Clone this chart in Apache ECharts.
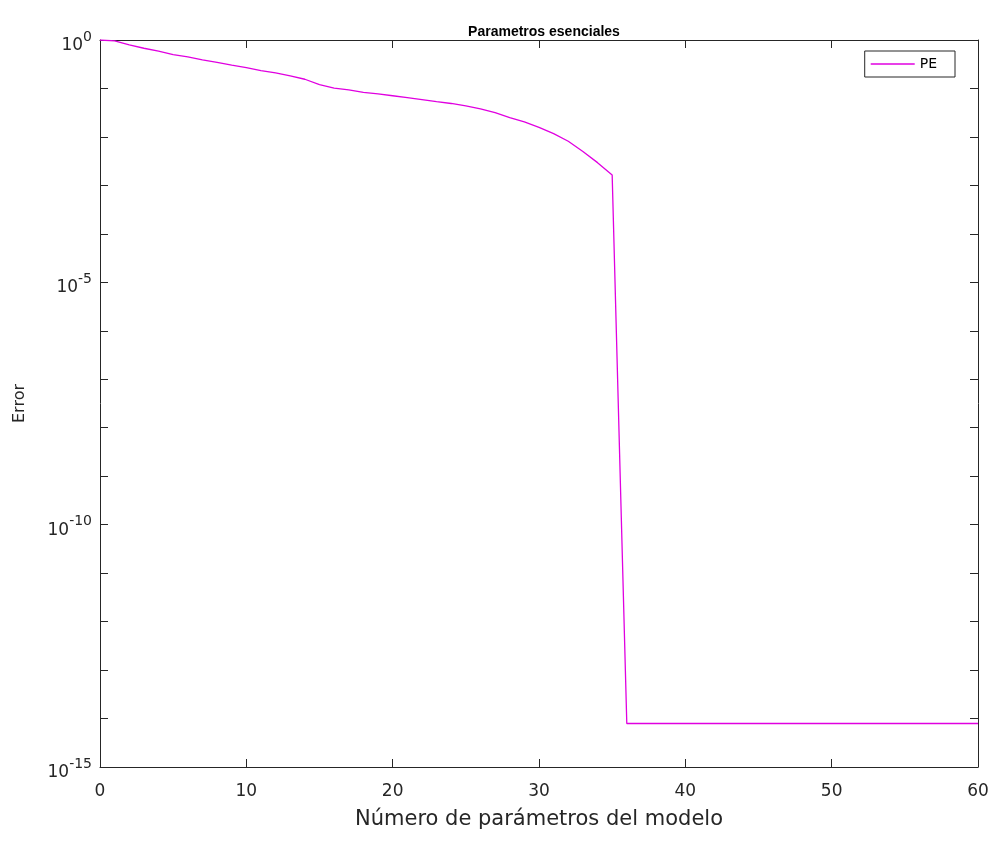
<!DOCTYPE html>
<html>
<head>
<meta charset="utf-8">
<script src="https://cdn.jsdelivr.net/npm/echarts@6/dist/echarts.min.js"></script>
<style>
html,body{margin:0;padding:0;background:#fff;}
#chart{width:994px;height:841px;}
</style>
</head>
<body>
<div id="chart"></div>
<script>
// ---- data ----
const chartTitle = 'Parametros esenciales';
const xAxisName = 'Número de parámetros del modelo';
const yAxisName = 'Error';
const seriesName = 'PE';
const paramCount = [0,1,2,3,4,5,6,7,8,9,10,11,12,13,14,15,16,17,18,19,20,
  21,22,23,24,25,26,27,28,29,30,31,32,33,34,35,36,37,38,39,40,
  41,42,43,44,45,46,47,48,49,50,51,52,53,54,55,56,57,58,59,60];
const errorPE = [1, 0.955, 0.794, 0.676, 0.589, 0.501, 0.447, 0.389, 0.347, 0.302,
  0.269, 0.234, 0.209, 0.182, 0.155, 0.120, 0.102, 0.0933, 0.0832, 0.0776,
  0.0708, 0.0646, 0.0589, 0.0537, 0.0490, 0.0437, 0.0380, 0.0316, 0.0251, 0.0204,
  0.0158, 0.0117, 0.00813, 0.00501, 0.00295, 0.00164,
  7.9e-15, 7.9e-15, 7.9e-15, 7.9e-15, 7.9e-15, 7.9e-15, 7.9e-15, 7.9e-15, 7.9e-15, 7.9e-15,
  7.9e-15, 7.9e-15, 7.9e-15, 7.9e-15, 7.9e-15, 7.9e-15, 7.9e-15, 7.9e-15, 7.9e-15, 7.9e-15,
  7.9e-15, 7.9e-15, 7.9e-15, 7.9e-15, 7.9e-15];
const xTickValues = [0, 10, 20, 30, 40, 50, 60];
const yLabelExponents = [0, -5, -10, -15];

// ---- chart ----
const FONT = 'DejaVu Sans';
const TXT = '#262626';
const AX = '#262626';
const LINE = '#e000e0';
const chart = echarts.init(document.getElementById('chart'));
const points = paramCount.map((x, i) => [x, errorPE[i]]);

function yFmt(v) {
  const e = Math.round(Math.log10(v));
  return yLabelExponents.indexOf(e) >= 0 ? '{b|10}{s|' + e + '}' : '';
}

const commonX = {
  type: 'value', min: xTickValues[0], max: xTickValues[xTickValues.length - 1], interval: 10,
  axisLine: {show: true, onZero: false, lineStyle: {color: AX, width: 1}},
  axisTick: {show: true, inside: true, length: 8, lineStyle: {color: AX}},
  splitLine: {show: false}
};
const commonY = {
  type: 'log', logBase: 10, min: 1e-15, max: 1, interval: 1,
  axisLine: {show: true, onZero: false, lineStyle: {color: AX, width: 1}},
  axisTick: {show: true, inside: true, length: 8, lineStyle: {color: AX}},
  splitLine: {show: false}
};

chart.setOption({
  animation: false,
  backgroundColor: '#fff',
  textStyle: {fontFamily: FONT},
  title: {
    text: chartTitle, left: 539, top: 20, textAlign: 'center',
    textStyle: {fontFamily: 'Liberation Sans', fontWeight: 'bold', fontSize: 14, color: '#000'}
  },
  legend: {
    right: 39, top: 51, orient: 'horizontal',
    data: [{name: seriesName, icon: 'rect'}],
    itemWidth: 44, itemHeight: 1.5, itemGap: 4,
    padding: [6, 18, 6, 6],
    borderColor: AX, borderWidth: 1, backgroundColor: '#fff',
    textStyle: {fontFamily: FONT, fontSize: 14, color: '#000', lineHeight: 14}
  },
  grid: {left: 100, right: 16, top: 40, bottom: 74, containLabel: false},
  xAxis: [
    Object.assign({}, commonX, {
      position: 'bottom',
      name: xAxisName, nameLocation: 'middle', nameGap: 42,
      nameTextStyle: {fontFamily: FONT, fontSize: 21, color: TXT},
      axisLabel: {show: true, margin: 16, fontFamily: FONT, fontSize: 17, color: TXT}
    }),
    Object.assign({}, commonX, {position: 'top', axisLabel: {show: false}})
  ],
  yAxis: [
    Object.assign({}, commonY, {
      position: 'left',
      name: yAxisName, nameLocation: 'middle', nameGap: 72, nameRotate: 90,
      nameTextStyle: {fontFamily: FONT, fontSize: 16, color: TXT},
      axisLabel: {
        show: true, margin: 8, formatter: yFmt, padding: [4, 0, 0, 0],
        rich: {
          b: {fontFamily: FONT, fontSize: 17, color: TXT, verticalAlign: 'bottom', lineHeight: 24},
          s: {fontFamily: FONT, fontSize: 14, color: TXT, verticalAlign: 'top', lineHeight: 24}
        }
      }
    }),
    Object.assign({}, commonY, {position: 'right', axisLabel: {show: false}})
  ],
  series: [{
    name: seriesName, type: 'line', xAxisIndex: 0, yAxisIndex: 0,
    data: points, symbol: 'none', smooth: false,
    lineStyle: {color: LINE, width: 1.3},
    itemStyle: {color: LINE}
  }]
});
</script>
</body>
</html>
